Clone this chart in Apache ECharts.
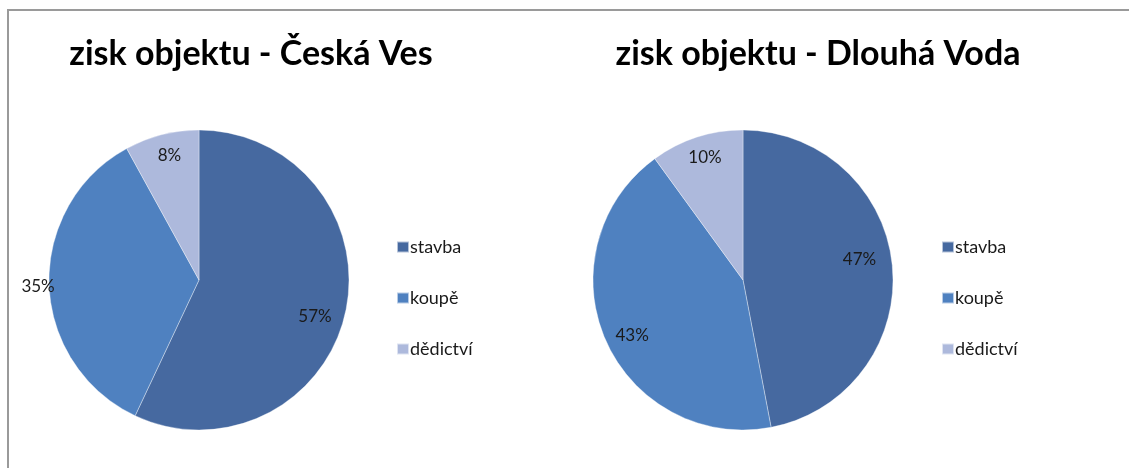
<!DOCTYPE html>
<html><head><meta charset="utf-8">
<script src="https://cdn.jsdelivr.net/npm/echarts@6/dist/echarts.min.js"></script>
<style>
html,body{margin:0;padding:0;background:#fff;}
#c{width:1129px;height:468px;position:absolute;left:0;top:0;}
#frame{position:absolute;left:7px;top:9px;width:1130px;height:470px;border-top:2px solid #9a9a9a;border-left:2px solid #9a9a9a;pointer-events:none;}
</style></head>
<body>
<div id="c"></div><div id="frame"></div>
<script>
const categories = ['stavba', 'koupě', 'dědictví'];
const titles = ['zisk objektu - Česká Ves', 'zisk objektu - Dlouhá Voda'];
const valuesCeskaVes = [57, 35, 8];
const valuesDlouhaVoda = [47, 43, 10];

const colors = ['#4669a0', '#4f81c0', '#adb9dc'];
const labelOffsets = [
  [[-4, 10], [-38, 3], [1, -5]],
  [[-6, -9], [2, 7], [0, -6]]
];
const centers = [[199, 280], [743, 280]];
const R = 150;
const font = 'Lato, "Open Sans", sans-serif';

const chart = echarts.init(document.getElementById('c'));
const series = [];
[valuesCeskaVes, valuesDlouhaVoda].forEach((vals, i) => {
  const data = categories.map((c, k) => ({ name: c, value: vals[k] }));
  series.push({
    type: 'pie', center: centers[i], radius: [0, R], startAngle: 90, clockwise: true,
    data: data, label: { show: false }, labelLine: { show: false },
    itemStyle: { borderColor: 'rgba(255,255,255,0.6)', borderWidth: 0.6 },
    emphasis: { disabled: true }, silent: true, animation: false
  });
  series.push({
    type: 'pie', center: centers[i], radius: [0, R * 1.6], startAngle: 90, clockwise: true,
    data: categories.map((c, k) => ({
      name: c, value: vals[k],
      label: { offset: labelOffsets[i][k] }
    })),
    itemStyle: { color: 'rgba(0,0,0,0)' },
    label: { show: true, position: 'inside', formatter: p => p.value + '%',
      fontFamily: font, fontSize: 17, color: '#1a1a1a' },
    labelLine: { show: false }, emphasis: { disabled: true }, silent: true, animation: false,
    legendHoverLink: false
  });
});

const legendBase = {
  data: categories, orient: 'vertical', top: 233, itemWidth: 12, itemHeight: 11,
  itemGap: 33, icon: 'rect', selectedMode: false,
  textStyle: { fontFamily: font, fontSize: 18, lineHeight: 18, color: '#1a1a1a', padding: [0, 0, 0, -4] }
};

chart.setOption({
  color: colors,
  animation: false,
  title: [
    { text: titles[0], left: 246, top: 32, textAlign: 'center',
      textStyle: { fontFamily: font, fontWeight: 'bold', fontSize: 34, color: '#000' } },
    { text: titles[1], left: 813, top: 32, textAlign: 'center',
      textStyle: { fontFamily: font, fontWeight: 'bold', fontSize: 34, color: '#000' } }
  ],
  legend: [
    Object.assign({}, legendBase, { left: 391 }),
    Object.assign({}, legendBase, { left: 936 })
  ],
  series: series
});
</script>
</body></html>
